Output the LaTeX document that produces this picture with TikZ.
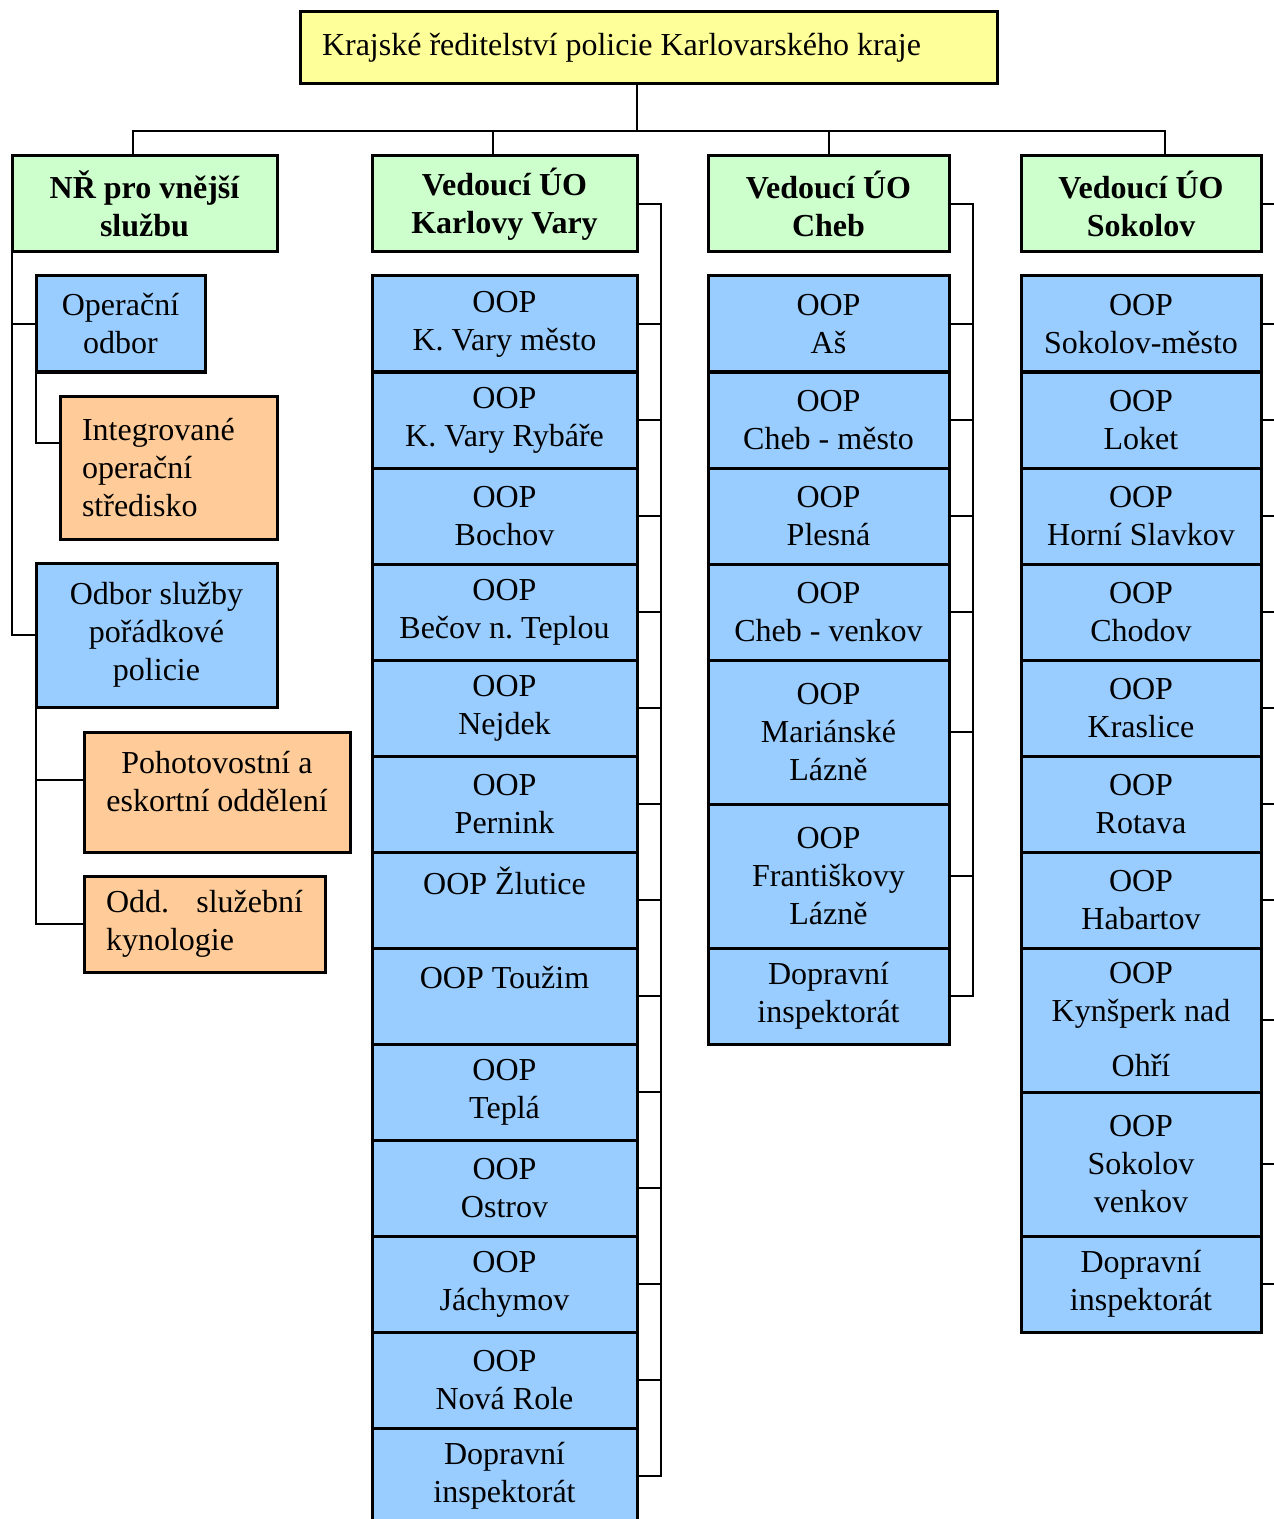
\documentclass[tikz,border=0pt]{standalone}
\usepackage{fontspec}
\setmainfont{Liberation Serif}
\usepackage{tikz}
\usetikzlibrary{positioning}
\usepackage{xcolor}
\definecolor{boxyellow}{RGB}{255,255,153}
\definecolor{boxgreen}{RGB}{204,255,204}
\definecolor{boxblue}{RGB}{153,204,255}
\definecolor{boxorange}{RGB}{255,204,153}
\frenchspacing
\tikzset{
  box/.style={rectangle, draw=black, line width=1.5pt, outer sep=0pt, inner sep=0pt,
              align=center, font=\fontsize{16}{19}\selectfont},
  headbox/.style={box, fill=boxgreen, minimum height=48pt, font=\fontsize{16}{19}\selectfont\bfseries},
  unitbox/.style={box, fill=boxblue, minimum height=48pt},
  tallbox/.style={unitbox, minimum height=72pt},
  subbox/.style={box, fill=boxorange},
  kvcol/.style={minimum width=132.5pt},
  chebcol/.style={minimum width=120.5pt},
  sokcol/.style={minimum width=120pt},
  link/.style={line width=1pt, black},
}

\begin{document}
\begin{tikzpicture}[x=0.5pt, y=-0.5pt, node distance=0pt]
\useasboundingbox (0,0) rectangle (1273,1519);

\node[box, fill=boxyellow, anchor=north west, minimum width=348.5pt, minimum height=36pt,
      text width=326.5pt, align=flush left] at (300,12) (top) {Krajské ředitelství policie Karlovarského kraje};

% left branch
\node[headbox, kvcol, anchor=north west] at (12,156) (nr) {NŘ pro vnější\\službu};
\node[unitbox, minimum width=84.5pt, anchor=north west] at (36,276) (oper) {Operační\\odbor};
\node[subbox, minimum width=108.5pt, minimum height=71.5pt, text width=86.5pt, align=flush left,
      anchor=north west] at (60,396) (integr) {Integrované\\operační\\středisko};
\node[tallbox, minimum width=120.5pt, anchor=north west] at (36,563) (odbor) {Odbor služby\\pořádkové\\policie};
\node[subbox, minimum width=133pt, minimum height=60pt, anchor=north west] at (84,732) (pohot)
      {Pohotovostní a\\eskortní oddělení\\[-8pt]\mbox{}};
\node[subbox, minimum width=120.5pt, minimum height=48pt, text width=98.5pt, align=flush left,
      anchor=north west] at (84,876) (odd) {Odd.\hfill služební\\kynologie};

% Karlovy Vary
\node[headbox, kvcol, anchor=north west] at (372,156) (kv) {Vedoucí ÚO\\Karlovy Vary};
\node[unitbox, kvcol, below=12pt of kv] (kv1) {OOP\\K. Vary město};
\node[unitbox, kvcol, below=of kv1] (kv2) {OOP\\K. Vary Rybáře};
\node[unitbox, kvcol, below=of kv2] (kv3) {OOP\\Bochov};
\node[unitbox, kvcol, below=of kv3] (kv4) {OOP\\Bečov n. Teplou};
\node[unitbox, kvcol, below=of kv4] (kv5) {OOP\\Nejdek};
\node[unitbox, kvcol, below=of kv5] (kv6) {OOP\\Pernink};
\node[unitbox, kvcol, below=of kv6] (kv7) {OOP Žlutice\\\mbox{}};
\node[unitbox, kvcol, below=of kv7] (kv8) {OOP Toužim\\\mbox{}};
\node[unitbox, kvcol, below=of kv8] (kv9) {OOP\\Teplá};
\node[unitbox, kvcol, below=of kv9] (kv10) {OOP\\Ostrov};
\node[unitbox, kvcol, below=of kv10] (kv11) {OOP\\Jáchymov};
\node[unitbox, kvcol, below=of kv11] (kv12) {OOP\\Nová Role};
\node[unitbox, kvcol, below=of kv12] (kv13) {Dopravní\\inspektorát};

% Cheb
\node[headbox, chebcol, anchor=north west] at (708,156) (cheb) {Vedoucí ÚO\\Cheb};
\node[unitbox, chebcol, below=12pt of cheb] (cheb1) {OOP\\Aš};
\node[unitbox, chebcol, below=of cheb1] (cheb2) {OOP\\Cheb - město};
\node[unitbox, chebcol, below=of cheb2] (cheb3) {OOP\\Plesná};
\node[unitbox, chebcol, below=of cheb3] (cheb4) {OOP\\Cheb - venkov};
\node[tallbox, chebcol, below=of cheb4] (cheb5) {OOP\\Mariánské\\Lázně};
\node[tallbox, chebcol, below=of cheb5] (cheb6) {OOP\\Františkovy\\Lázně};
\node[unitbox, chebcol, below=of cheb6] (cheb7) {Dopravní\\inspektorát};

% Sokolov
\node[headbox, sokcol, anchor=north west] at (1021,156) (sok) {Vedoucí ÚO\\Sokolov};
\node[unitbox, sokcol, below=12pt of sok] (sok1) {OOP\\Sokolov-město};
\node[unitbox, sokcol, below=of sok1] (sok2) {OOP\\Loket};
\node[unitbox, sokcol, below=of sok2] (sok3) {OOP\\Horní Slavkov};
\node[unitbox, sokcol, below=of sok3] (sok4) {OOP\\Chodov};
\node[unitbox, sokcol, below=of sok4] (sok5) {OOP\\Kraslice};
\node[unitbox, sokcol, below=of sok5] (sok6) {OOP\\Rotava};
\node[unitbox, sokcol, below=of sok6] (sok7) {OOP\\Habartov};
\node[tallbox, sokcol, below=of sok7] (sok8) {OOP\\Kynšperk nad\\[8.5pt]Ohří};
\node[tallbox, sokcol, below=of sok8] (sok9) {OOP\\Sokolov\\venkov};
\node[unitbox, sokcol, below=of sok9] (sok10) {Dopravní\\inspektorát};

% connectors
\coordinate (bus) at (637,131);
\draw[link] ([xshift=-5.75pt]top.south) -- (bus);
\draw[link] ([xshift=-5.75pt]nr.north) |- (bus) -| ([xshift=12pt]sok.north);
\draw[link] ([xshift=-5.75pt]kv.north) -- ++(0,12.5pt);
\draw[link] (cheb.north) -- ++(0,12.5pt);

\draw[link] (nr.south west) |- (oper.west);
\draw[link] (nr.south west) |- (odbor.west);
\draw[link] (oper.south west) |- ([yshift=-23.5pt]integr.north west);
\draw[link] (odbor.south west) |- ([yshift=-24pt]pohot.north west);
\draw[link] (odbor.south west) |- (odd.west);

\draw[link] (kv.east) -- ++(12pt,0) coordinate (kvrail) |- (kv13.east);
\foreach \i in {1,...,12} \draw[link] (kv\i.east) -- (kv\i.east -| kvrail);
\draw[link] (cheb.east) -- ++(12pt,0) coordinate (chebrail) |- (cheb7.east);
\foreach \i in {1,...,6} \draw[link] (cheb\i.east) -- (cheb\i.east -| chebrail);
\draw[link] (sok.east) -- ++(12pt,0) coordinate (sokrail) |- (sok10.east);
\foreach \i in {1,...,9} \draw[link] (sok\i.east) -- (sok\i.east -| sokrail);
\end{tikzpicture}
\end{document}
